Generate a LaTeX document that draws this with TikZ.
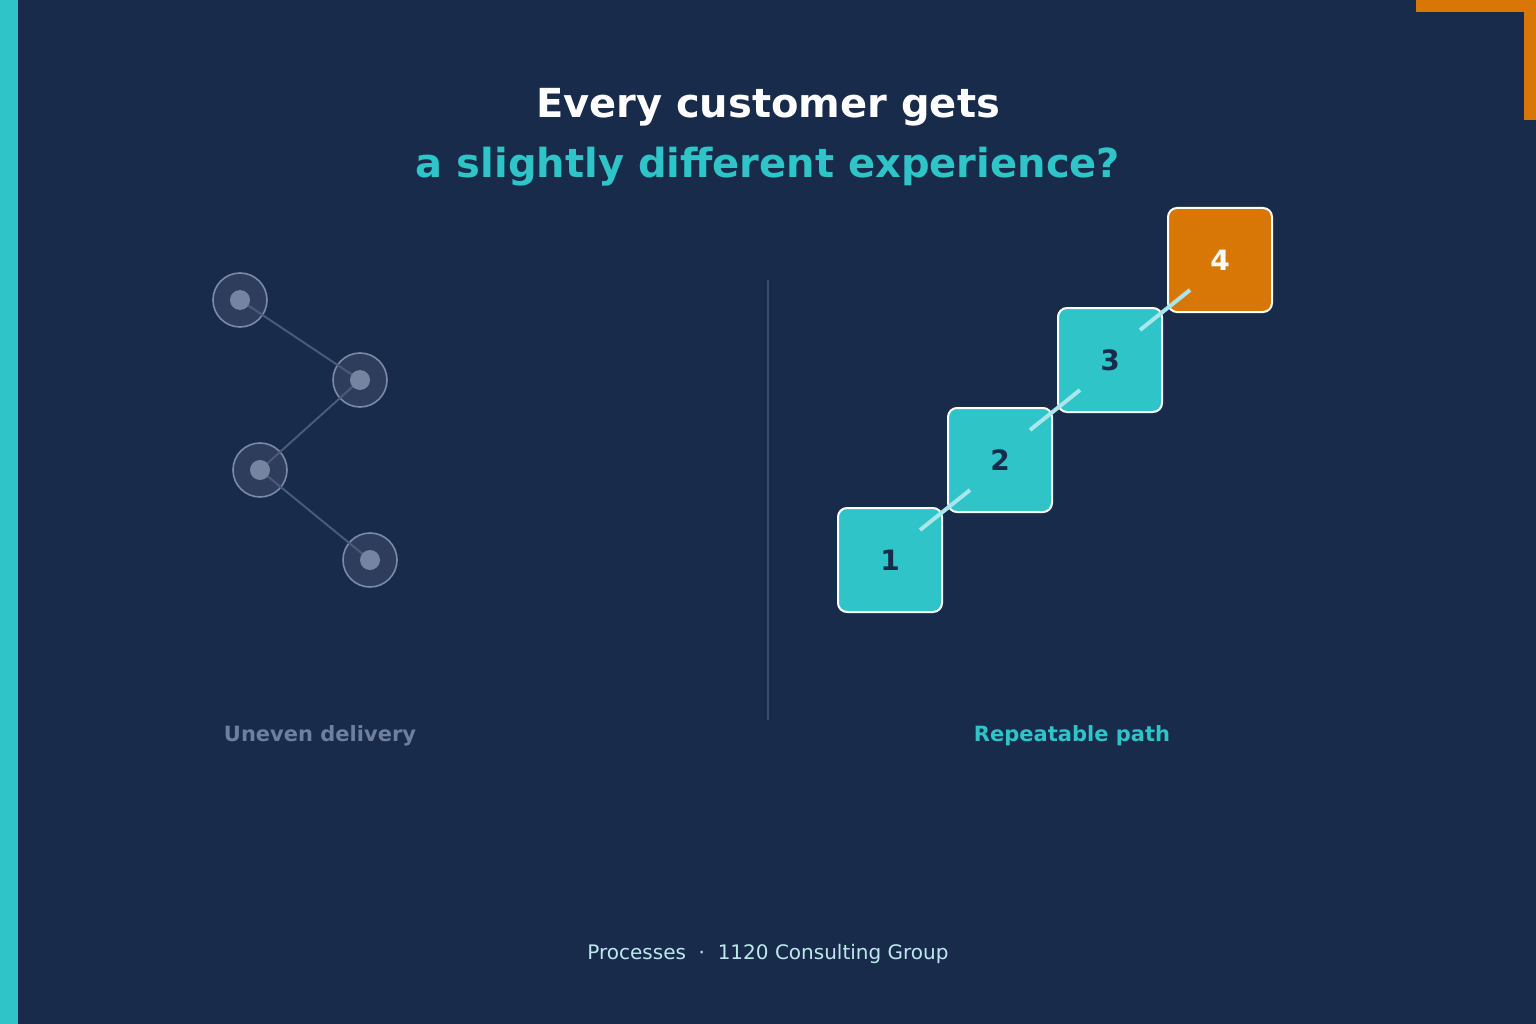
\documentclass[tikz,border=0pt]{standalone}
\usepackage{fontspec}
\setmainfont{DejaVu Sans}
\definecolor{bg}{HTML}{182B4A}
\definecolor{teal}{HTML}{2EC4C8}
\definecolor{orng}{HTML}{D97706}
\definecolor{ring}{HTML}{7A8AA8}
\definecolor{ringfill}{HTML}{2E3D5C}
\definecolor{gline}{HTML}{4A5A78}
\definecolor{dot}{HTML}{7584A0}
\definecolor{lab}{HTML}{6F7F9C}
\definecolor{foot}{HTML}{BFE8EE}
\definecolor{dashcol}{HTML}{A8E6EA}
\definecolor{navy}{HTML}{182B4A}
\begin{document}
\begin{tikzpicture}[x=1pt,y=-1pt,
  outer/.style={circle,minimum size=54pt,inner sep=0,draw=ring,line width=1.6pt,fill=ringfill},
  inner/.style={circle,minimum size=20pt,inner sep=0,fill=dot},
  gl/.style={gline,line width=2pt},
  box/.style={rectangle,rounded corners=9pt,minimum size=104pt,draw=white,line width=2pt,font=\bfseries\fontsize{28}{28}\selectfont},
  dl/.style={draw=dashcol,line width=4pt}]
\fill[bg] (0,0) rectangle (1536,1024);
\useasboundingbox (0,0) rectangle (1536,1024);
\fill[teal] (0,0) rectangle (18,1024);
\fill[orng] (1416,0) rectangle (1536,12);
\fill[orng] (1524,0) rectangle (1536,120);
\node[white,font=\bfseries\fontsize{40}{40}\selectfont] (t1) at (768,107) {Every customer gets};
\node[teal,font=\bfseries\fontsize{40}{40}\selectfont] (t2) at (768,167) {a slightly different experience?};
% left
\node[outer] (c1) at (240,300) {};
\node[outer] (c2) at (360,380) {};
\node[outer] (c3) at (260,470) {};
\node[outer] (c4) at (370,560) {};
\draw[gl] (c1.center) -- (c2.center) -- (c3.center) -- (c4.center);
\foreach \i in {1,...,4} \node[inner] at (c\i.center) {};
\draw[gline!70!bg,line width=1.5pt] (768,280) -- (768,720);
% right
\node[box,fill=teal,text=navy] (b1) at (890,560) {1};
\node[box,fill=teal,text=navy] (b2) at (1000,460) {2};
\node[box,fill=teal,text=navy] (b3) at (1110,360) {3};
\node[box,fill=orng,text=white] (b4) at (1220,260) {4};
\draw[dl] ([shift={(30,-30)}]b1.center) -- ([shift={(-30,30)}]b2.center);
\draw[dl] ([shift={(30,-30)}]b2.center) -- ([shift={(-30,30)}]b3.center);
\draw[dl] ([shift={(30,-30)}]b3.center) -- ([shift={(-30,30)}]b4.center);
\node[lab,font=\bfseries\fontsize{21}{21}\selectfont] (l1) at (320,736) {Uneven delivery};
\node[teal,font=\bfseries\fontsize{21}{21}\selectfont] (l2) at (1072,736) {Repeatable path};
\node[foot,font=\fontsize{20}{20}\selectfont] (f) at (768,954) {Processes\ \ ·\ \ 1120 Consulting Group};
\end{tikzpicture}
\end{document}
